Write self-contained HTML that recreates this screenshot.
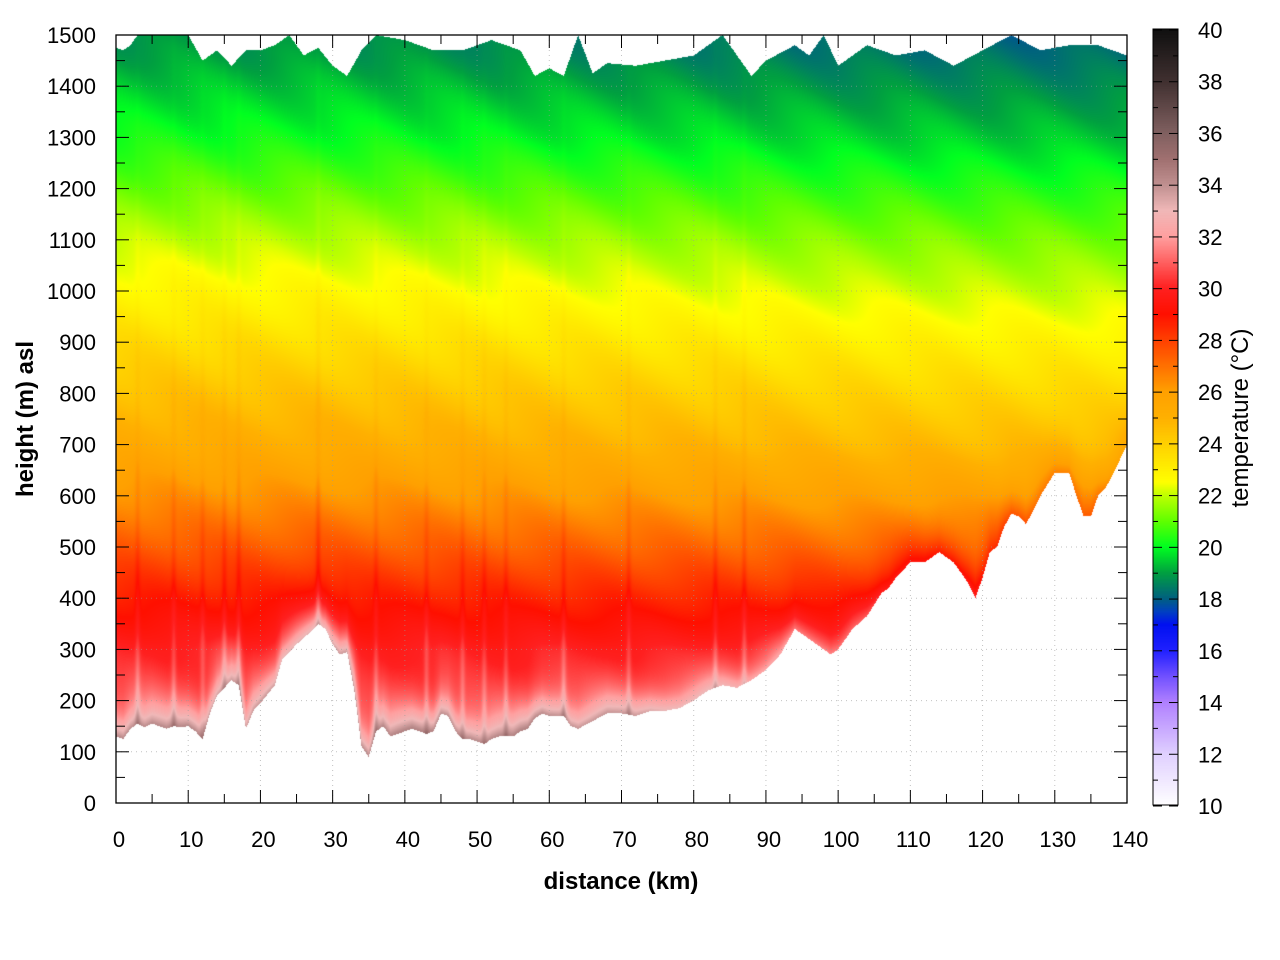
<!DOCTYPE html>
<html><head><meta charset="utf-8"><style>
body{margin:0;background:#fff;width:1280px;height:960px;overflow:hidden;position:relative;font-family:"Liberation Sans",sans-serif}
canvas{position:absolute;left:0;top:0}
svg{position:absolute;left:0;top:0}
</style></head><body>
<canvas id="cv" width="1280" height="960"></canvas>
<svg id="sv" width="1280" height="960"></svg>
<script>
const distKm=[0,1,2,3,4,5,6,7,8,9,10,11,12,13,14,15,16,17,18,19,20,22,23,25,27,28,29,30,31,32,33,34,35,36,37,38,39,40,41,42,43,44,45,46,47,48,49,50,51,52,53,54,55,56,57,58,59,60,62,63,64,66,68,70,72,74,76,78,80,82,84,86,88,90,92,94,96,98,99,100,102,104,106,107,108,110,112,114,116,118,119,120,121,122,123,124,125,126,127,128,130,132,133,134,135,136,137,138,140];
const groundM=[130,125,145,155,148,155,150,145,150,148,150,140,125,175,210,225,240,230,145,180,195,230,280,310,335,350,340,310,290,295,220,110,90,140,150,130,135,140,145,140,135,140,175,170,140,125,125,120,115,125,130,130,130,140,145,165,175,170,170,150,145,160,175,175,170,180,180,185,200,220,230,225,240,260,290,340,320,300,290,300,340,365,410,420,440,470,470,490,470,430,400,440,490,500,540,565,560,545,570,600,645,645,600,560,560,600,615,640,700];
const topKm=[0,1,2,3,4,6,8,10,12,14,16,18,20,22,24,26,28,30,32,34,36,40,44,48,52,56,58,60,62,64,66,68,72,76,80,84,88,90,94,96,98,100,104,108,112,116,120,124,128,132,136,140];
const topM=[1475,1470,1480,1500,1500,1500,1500,1500,1450,1470,1440,1470,1470,1480,1500,1460,1475,1440,1420,1470,1500,1490,1470,1470,1490,1470,1420,1435,1420,1500,1425,1445,1440,1450,1460,1500,1420,1450,1480,1460,1500,1440,1480,1460,1470,1440,1470,1500,1470,1480,1480,1460];
const profH=[0,300,400,500,600,700,800,950,1100,1200,1300,1450,1500];
const profT=[31,29.8,28.6,27.3,26.1,25.0,24.2,22.9,21.7,20.8,19.9,18.8,18.5];
const shiftKm=[0,30,60,100,140];
const shiftT=[0.3,0.2,0,-0.3,-0.5];
const boostKm=[0,20,40,60,80,100,120,140];
const boostC=[4,3.5,4,4,3,2,1.5,1];
const spikeKm=[3,8,12,15,17,28,36,43,48,51,54,62,71,83,87];
const xTicks=[0,10,20,30,40,50,60,70,80,90,100,110,120,130,140];
const yTicks=[0,100,200,300,400,500,600,700,800,900,1000,1100,1200,1300,1400,1500];
const cTicks=[10,12,14,16,18,20,22,24,26,28,30,32,34,36,38,40];
const cmapT=[10,12,14,15,16,17,17.5,18,19,19.5,20,21,22,22.5,23,24,25,26,27,28,29,30,31,32,33,34,35,36,38,40];
const cmapC=["#ffffff","#e0d0ff","#b080ff","#7050ff","#2020ff","#0010f0","#0040c0","#006080","#00a040","#00d030","#00ff20","#60ff00","#c0ff00","#ffff00","#fff000","#ffd000","#ffb000","#ffa000","#ff7000","#ff4000","#ff1000","#ff2020","#ff6060","#ffa0a0","#f0b8b8","#c09090","#a07070","#806060","#403030","#101010"];
const L=116,R=1127,T=35,B=803;
const xs=k=>L+(R-L)*k/140, ys=m=>B-(B-T)*m/1500;
const hex=c=>[parseInt(c.slice(1,3),16),parseInt(c.slice(3,5),16),parseInt(c.slice(5,7),16)];
const cm=cmapC.map(hex);
function col(t){t=Math.max(10,Math.min(40,t));let i=0;while(i<cmapT.length-2&&t>cmapT[i+1])i++;const f=(t-cmapT[i])/(cmapT[i+1]-cmapT[i]);const a=cm[i],b=cm[i+1];return [a[0]+(b[0]-a[0])*f,a[1]+(b[1]-a[1])*f,a[2]+(b[2]-a[2])*f];}
function interp(X,Y,x){if(x<=X[0])return Y[0];for(let i=1;i<X.length;i++)if(x<=X[i]){const f=(x-X[i-1])/(X[i]-X[i-1]);return Y[i-1]+(Y[i]-Y[i-1])*f;}return Y[Y.length-1];}
const cv=document.getElementById('cv'),ctx=cv.getContext('2d');
const img=ctx.createImageData(1280,960);
for(let px=L;px<R;px++){
 const k=(px+0.5-L)/(R-L)*140;
 const g=interp(distKm,groundM,k),tp=interp(topKm,topM,k),bs=interp(boostKm,boostC,k),sh=interp(shiftKm,shiftT,k);
 let sp=0;for(const s of spikeKm){sp+=Math.exp(-Math.pow((k-s)/0.35,2));}
 const y0=Math.round(ys(tp)),y1=Math.round(ys(g));
 for(let py=y0;py<y1;py++){
  const h=(B-py)/(B-T)*1500, d=h-g;
  let t=interp(profH,profT,h)+sh*Math.min(1,h/800)+bs*Math.exp(-d/45)+1.0*sp*Math.exp(-d/400)+0.2*Math.sin(h/35+k/2.5);
  const c=col(t);const o=(py*1280+px)*4;img.data[o]=c[0];img.data[o+1]=c[1];img.data[o+2]=c[2];img.data[o+3]=255;
 }
}
for(let py=29;py<805;py++){const t=10+(805-py)/(805-29)*30;const c=col(t);for(let px=1153;px<1178;px++){const o=(py*1280+px)*4;img.data[o]=c[0];img.data[o+1]=c[1];img.data[o+2]=c[2];img.data[o+3]=255;}}
ctx.putImageData(img,0,0);
const sv=document.getElementById('sv'),NS='http://www.w3.org/2000/svg';
function mk(tag,at,txt){const e=document.createElementNS(NS,tag);for(const a in at)e.setAttribute(a,at[a]);if(txt!==undefined)e.textContent=txt;sv.appendChild(e);return e;}
xTicks.forEach(v=>{const x=xs(v);
 const g=mk('line',{x1:x,x2:x,y1:T,y2:B,stroke:'#999','stroke-width':1,'stroke-dasharray':'1,4',opacity:0.6});
 
 mk('line',{x1:x,x2:x,y1:B,y2:B-13,stroke:'#000'});mk('line',{x1:x,x2:x,y1:T,y2:T+13,stroke:'#000'});
 const t=mk('text',{x:x+3,y:847,'font-size':22,'text-anchor':'middle'},v);
 
 if(v<140){const xm=xs(v+5);mk('line',{x1:xm,x2:xm,y1:B,y2:B-9,stroke:'#000'});mk('line',{x1:xm,x2:xm,y1:T,y2:T+9,stroke:'#000'});}
});
yTicks.forEach(v=>{const y=ys(v);
 const g=mk('line',{x1:L,x2:R,y1:y,y2:y,stroke:'#999','stroke-width':1,'stroke-dasharray':'1,4',opacity:0.6});
 
 mk('line',{x1:L,x2:L+13,y1:y,y2:y,stroke:'#000'});mk('line',{x1:R,x2:R-13,y1:y,y2:y,stroke:'#000'});
 const t=mk('text',{x:96,y:y+8,'font-size':22,'text-anchor':'end'},v);
 
 if(v<1500){const ym=ys(v+50);mk('line',{x1:L,x2:L+9,y1:ym,y2:ym,stroke:'#000'});mk('line',{x1:R,x2:R-9,y1:ym,y2:ym,stroke:'#000'});}
});
const fr=mk('rect',{x:L,y:T,width:R-L,height:B-T,fill:'none',stroke:'#000','stroke-width':1.3});

const cy=t=>806-(t-10)/30*(806-30);
cTicks.forEach(v=>{const y=cy(v);
 mk('line',{x1:1153,x2:1162,y1:y,y2:y,stroke:'#000'});mk('line',{x1:1178,x2:1169,y1:y,y2:y,stroke:'#000'});
 if(v<40){const ym=cy(v+1);mk('line',{x1:1153,x2:1158,y1:ym,y2:ym,stroke:'#000'});mk('line',{x1:1178,x2:1173,y1:ym,y2:ym,stroke:'#000'});}
 const t=mk('text',{x:1198,y:y+8,'font-size':22},v);
 
});
const cb=mk('rect',{x:1153,y:29,width:25,height:776,fill:'none',stroke:'#000','stroke-width':1});

const xt=mk('text',{x:621,y:889,'font-size':24,'font-weight':'bold','text-anchor':'middle'},'distance (km)');

const yt=mk('text',{x:0,y:0,'font-size':24,'font-weight':'bold','text-anchor':'middle',transform:'translate(33,419) rotate(-90)'},'height (m) asl');

const ct=mk('text',{x:0,y:0,'font-size':24,'text-anchor':'middle',transform:'translate(1248,418) rotate(-90)'},'temperature (°C)');

</script>
</body></html>
